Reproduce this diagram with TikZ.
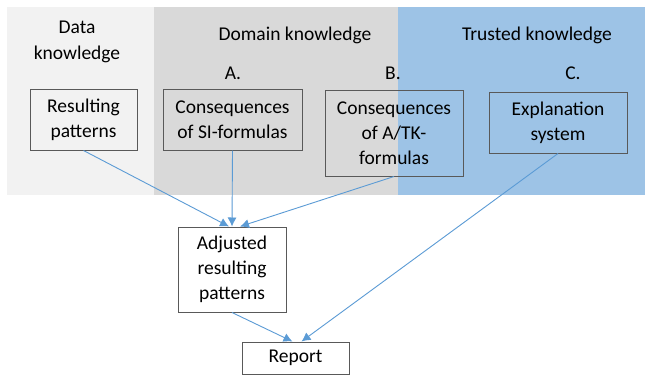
\documentclass[tikz,border=0pt]{standalone}
\usepackage{fontspec}
\setmainfont{Carlito}
\usetikzlibrary{arrows.meta}
\definecolor{bgA}{HTML}{F2F2F2}
\definecolor{bgB}{HTML}{D9D9D9}
\definecolor{bgC}{HTML}{9DC3E6}
\definecolor{conn}{HTML}{5B9BD5}
\definecolor{edge}{HTML}{595959}
\tikzset{
  box/.style={draw=edge, line width=1pt, inner sep=0pt, align=center,
    font=\fontsize{19.5}{25}\selectfont},
  lbl/.style={inner sep=0pt, align=center, font=\fontsize{19.5}{26}\selectfont},
  conn/.style={draw=conn, line width=0.9pt, -{Latex[length=9pt,width=9pt]}}
}
\begin{document}
\begin{tikzpicture}[x=1pt,y=-1pt]
\useasboundingbox (0,0) rectangle (648,376);
\fill[white] (0,0) rectangle (648,376);
\fill[bgA] (7,7) rectangle (154,195);
\fill[bgB] (154,7) rectangle (398,195);
\fill[bgC] (398,7) rectangle (645,195);
\node[lbl] (tdata) at (77,42) {Data\\knowledge};
\node[lbl] (tdom) at (295,35) {Domain knowledge};
\node[lbl] (ttr) at (537,35) {Trusted knowledge};
\node[lbl] (la) at (233,73) {A.};
\node[lbl] (lb) at (393,73) {B.};
\node[lbl] (lc) at (573,73) {C.};
\node[box, minimum width=107pt, minimum height=61pt] (rp) at (83.5,119.5) {Resulting\\patterns};
\node[box, minimum width=139pt, minimum height=61pt] (si) at (232.5,119.5) {Consequences\\of SI-formulas};
\node[box, minimum width=138pt, minimum height=86pt] (atk) at (394,133) {Consequences\\of A/TK-\\formulas};
\node[box, minimum width=138pt, minimum height=61pt] (ex) at (558,122.5) {Explanation\\system};
\node[box, fill=white, minimum width=108pt, minimum height=85pt] (adj) at (232,269.5) {Adjusted\\resulting\\patterns};
\node[box, fill=white, minimum width=107pt, minimum height=32pt] (rep) at (295.5,358) {Report};
\draw[conn] (rp.south) -- ([xshift=-3pt]adj.north);
\draw[conn] (si.south) -- (adj.north);
\draw[conn] (atk.south) -- ([xshift=8pt]adj.north);
\draw[conn] (ex.south) -- ([xshift=6pt]rep.north);
\draw[conn] (adj.south) -- ([xshift=-3pt]rep.north);
\end{tikzpicture}
\end{document}
